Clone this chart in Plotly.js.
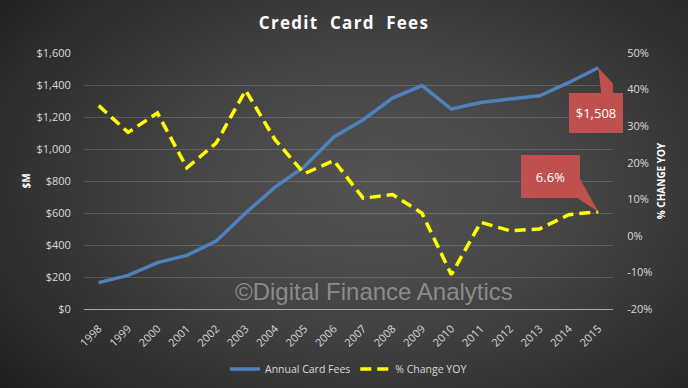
<!DOCTYPE html>
<html>
<head>
<meta charset="utf-8">
<script src="https://cdn.plot.ly/plotly-3.0.1.min.js"></script>
<style>
  html, body { margin: 0; padding: 0; }
  body {
    width: 688px; height: 388px; overflow: hidden;
    background: radial-gradient(ellipse 75% 85% at 55% 48%, #545454 0%, #444444 40%, #2e2e2e 75%, #1b1b1b 100%);
  }
  #chart { width: 688px; height: 388px; }
  .gtitle { letter-spacing: 1.3px; }
</style>
</head>
<body>
<div id="chart"></div>
<script>
// ---- data ----
var years = ["1998","1999","2000","2001","2002","2003","2004","2005","2006","2007","2008","2009","2010","2011","2012","2013","2014","2015"];
var annualFees = [165, 210, 290, 335, 425, 600, 762, 890, 1075, 1183, 1318, 1396, 1250, 1290, 1312, 1333, 1416, 1508];
var changeYoY = [35.6, 28.3, 33.6, 18.6, 25.4, 39.8, 26.3, 17.0, 20.6, 10.3, 11.3, 6.2, -10.6, 3.7, 1.4, 1.9, 5.8, 6.6];
var leftTicks = [0, 200, 400, 600, 800, 1000, 1200, 1400, 1600];
var leftTickText = ["$0", "$200", "$400", "$600", "$800", "$1,000", "$1,200", "$1,400", "$1,600"];
var rightTicks = [-20, -10, 0, 10, 20, 30, 40, 50];
var rightTickText = ["-20%", "-10%", "0%", "10%", "20%", "30%", "40%", "50%"];
var seriesNames = ["Annual Card Fees", "% Change YOY"];

var lastIdx = years.length - 1;
var feeLabel = "$" + annualFees[lastIdx].toLocaleString("en-US");
var pctLabel = changeYoY[lastIdx].toFixed(1) + "%";

var tickFont = {family: "Open Sans, sans-serif", size: 11, color: "#d9d9d9"};

var traces = [
  {
    x: years, y: annualFees, name: seriesNames[0], type: "scatter", mode: "lines",
    line: {color: "#4f81bd", width: 3.5},
    yaxis: "y", hoverinfo: "skip"
  },
  {
    x: years, y: changeYoY, name: seriesNames[1], type: "scatter", mode: "lines",
    line: {color: "#ffff00", width: 3.5, dash: "11px,6px"},
    yaxis: "y2", hoverinfo: "skip"
  }
];

var layout = {
  width: 688, height: 388,
  paper_bgcolor: "rgba(0,0,0,0)",
  plot_bgcolor: "rgba(0,0,0,0)",
  margin: {l: 84, r: 75, t: 53, b: 79, pad: 0, autoexpand: false},
  showlegend: true,
  title: {
    text: "<b>Credit  Card  Fees</b>",
    font: {family: "Open Sans, sans-serif", size: 17, color: "#ffffff"},
    x: 0.5, xanchor: "center", y: 0.94, yanchor: "middle"
  },
  xaxis: {
    type: "category", range: [-0.5, 17.5],
    showgrid: false, zeroline: false, showline: false,
    ticks: "outside", ticklen: 8, tickcolor: "rgba(0,0,0,0)", tickangle: -45,
    tickfont: {family: "Open Sans, sans-serif", size: 11, color: "#d9d9d9"},
    fixedrange: true, automargin: false
  },
  yaxis: {
    range: [0, 1600], tickvals: leftTicks, ticktext: leftTickText,
    showgrid: true, gridcolor: "rgba(255,255,255,0.16)", gridwidth: 1,
    zeroline: true, zerolinecolor: "#a8a8a8", zerolinewidth: 1,
    showline: false, ticks: "outside", ticklen: 10, tickcolor: "rgba(0,0,0,0)",
    tickfont: tickFont,
    title: {text: "<b>$M</b>", font: {family: "Open Sans, sans-serif", size: 10, color: "#ffffff"}, standoff: 4},
    fixedrange: true, automargin: false
  },
  yaxis2: {
    overlaying: "y", side: "right",
    range: [-20, 50], tickvals: rightTicks, ticktext: rightTickText,
    showgrid: false, zeroline: false, showline: false,
    ticks: "outside", ticklen: 11, tickcolor: "rgba(0,0,0,0)",
    tickfont: tickFont,
    title: {text: "<b>% CHANGE YOY</b>", font: {family: "Open Sans, sans-serif", size: 10, color: "#ffffff"}, standoff: 6},
    fixedrange: true, automargin: false
  },
  legend: {
    orientation: "h", x: 0.5, xanchor: "center", xref: "paper",
    yref: "container", y: 0.049, yanchor: "middle",
    font: {family: "Open Sans, sans-serif", size: 10.5, color: "#d9d9d9"},
    bgcolor: "rgba(0,0,0,0)", itemwidth: 30, tracegroupgap: 0
  },
  shapes: [
    {
      type: "path", xref: "x", yref: "y",
      xsizemode: "pixel", ysizemode: "pixel",
      xanchor: lastIdx, yanchor: annualFees[lastIdx],
      path: "M 0 0 L 3 -27 L 25 -27 Z",
      fillcolor: "#c0504d", line: {width: 0}
    },
    {
      type: "path", xref: "x", yref: "y2",
      xsizemode: "pixel", ysizemode: "pixel",
      xanchor: lastIdx, yanchor: changeYoY[lastIdx],
      path: "M 0 0 L -20 36 L -20 13 Z",
      fillcolor: "#c0504d", line: {width: 0}
    }
  ],
  annotations: [
    {
      x: lastIdx, y: annualFees[lastIdx], xref: "x", yref: "y",
      text: feeLabel, showarrow: true, arrowcolor: "rgba(0,0,0,0)", arrowwidth: 0.1, arrowhead: 0,
      ax: -2, ay: 45, width: 54, height: 40,
      bgcolor: "#c0504d", borderpad: 0, borderwidth: 0,
      font: {family: "Open Sans, sans-serif", size: 13, color: "#ffffff"}
    },
    {
      x: lastIdx, y: changeYoY[lastIdx], xref: "x", yref: "y2",
      text: pctLabel, showarrow: true, arrowcolor: "rgba(0,0,0,0)", arrowwidth: 0.1, arrowhead: 0,
      ax: -48, ay: -35, width: 59, height: 43,
      bgcolor: "#c0504d", borderpad: 0, borderwidth: 0,
      font: {family: "Open Sans, sans-serif", size: 13, color: "#ffffff"}
    },
    {
      xref: "paper", yref: "paper", x: (373.5 - 84) / 529, y: (309 - 291) / 256,
      xanchor: "center", yanchor: "middle", showarrow: false,
      text: "©Digital Finance Analytics",
      font: {family: "Liberation Sans, Arial, sans-serif", size: 24, color: "rgba(200,200,200,0.55)"}
    }
  ]
};

Plotly.newPlot("chart", traces, layout, {displayModeBar: false, staticPlot: true});
</script>
</body>
</html>
